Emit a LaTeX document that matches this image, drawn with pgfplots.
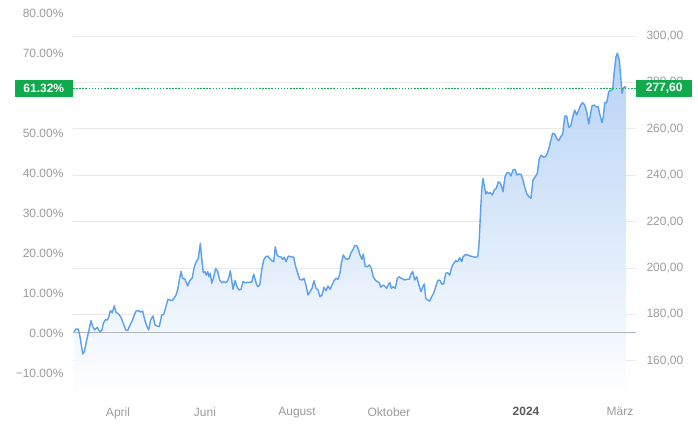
\documentclass[border=0pt]{standalone}
\usepackage{pgfplots}
\pgfplotsset{compat=1.18}
\usepackage{pgfplotstable}
\usepackage{fontspec}
\setmainfont{Liberation Sans}
\definecolor{lbl}{RGB}{155,155,155}
\definecolor{dk}{RGB}{90,90,90}
\definecolor{grd}{RGB}{234,234,234}
\definecolor{zer}{RGB}{178,180,186}
\definecolor{ln}{RGB}{90,160,238}
\definecolor{fl}{RGB}{176,207,245}
\definecolor{grn}{RGB}{16,170,76}

\pgfplotstableread{
x y
74 172.6
76 173.8
78.3 173.7
80 170.5
82.7 163.0
84.3 164.0
86.7 169.0
89 173.4
91 177.4
92.7 174.8
94.7 173.4
96 173.9
97.3 174.5
98.7 173.4
100 172.6
102 173.4
103.3 176.2
105.3 177.7
107.3 177.7
109 179.1
110.3 181.7
112.3 180.8
114.3 183.8
116 181.0
118.7 180.2
121 178.8
123.3 176.2
125.7 173.4
127.7 173.1
130 175.5
132.3 177.4
134.3 179.8
136 181.5
138.3 181.7
140.7 181.1
142.7 181.5
144.7 177.7
146.7 175.2
148.7 173.4
150.7 177.7
153 179.4
155 175.5
156.7 175.1
159.3 174.8
161.7 179.8
163.7 180.1
165.7 183.1
168 186.6
170 186.3
172 186.0
174 187.0
176 188.4
178 191.3
179.3 194.9
181 198.6
182.7 195.6
185 195.2
187.7 192.3
189.7 194.6
192.3 195.9
194.3 200.6
196.3 202.8
198.3 204.2
200.3 210.7
201.7 204.2
203.3 198.0
205 198.5
206.3 197.0
207.7 198.5
209 196.3
210.3 197.8
211.7 193.5
213.7 196.3
215.7 199.9
217.7 198.5
219.7 194.9
221.7 193.7
223.7 194.2
225.7 193.7
227.7 194.6
229 196.3
230.3 198.9
231.7 194.9
233 190.9
235 194.6
237 192.0
239 190.6
241 190.9
243 194.2
245 193.7
248.3 193.9
251.7 194.0
253.7 197.4
255.7 194.2
257.7 192.0
259.7 192.7
261.7 199.2
263.7 203.5
265.7 204.9
267.7 205.2
269.7 204.2
271.7 203.2
273.7 202.8
275.3 209.2
277 205.7
279 204.9
281 204.9
282.7 203.8
284.3 204.7
286 202.8
288.3 205.2
291 204.9
293.7 204.7
295.7 200.6
297.7 197.8
299.7 195.2
302 194.9
304 195.6
306 192.7
308 188.4
310 189.9
312 191.3
314 194.6
316 191.3
318 190.6
320 187.7
322 188.4
324 191.8
326 190.3
328 192.3
330 190.9
332 192.7
334 194.6
336 195.6
338 195.2
340 197.8
341.3 202.1
343.3 205.7
345.3 204.2
347.3 203.8
349.3 204.2
350.7 206.4
352.7 207.8
354.7 209.7
356.7 209.7
358 208.6
360 205.7
362 203.8
363.3 206.1
365.3 200.6
367.3 200.6
369.3 201.4
371.3 199.9
373.3 196.3
375.3 194.9
377.3 194.2
379.3 193.7
380.7 191.8
382.7 192.7
384.7 192.3
386.7 191.3
388.7 193.2
390 193.7
391.3 191.3
393.3 192.0
395.3 191.3
397.3 195.6
399.3 196.3
401.3 195.6
403.3 195.2
405.3 194.9
407.3 195.2
409.3 195.2
411.3 197.8
412.7 198.5
414.7 194.9
416.7 196.3
419 192.7
421 189.9
423 192.3
424.3 193.2
425.7 187.0
427.7 186.3
429.7 185.8
431.7 187.7
433.7 189.2
435.7 192.0
437.7 194.6
439.7 194.9
441.7 193.2
443.7 193.2
445.7 197.8
447.7 198.0
449.7 197.0
451.7 200.4
453.7 202.1
455.7 203.2
457.7 202.8
459.7 204.5
461.7 202.8
463 204.9
465 205.7
467.7 205.7
470.3 205.2
473 204.9
475 204.7
477.7 204.9
479 210.0
480.3 222.2
481.7 233.7
483 238.7
484.3 235.4
485.7 231.9
487 232.9
488.3 232.2
490.3 232.5
492.3 231.5
494.3 233.7
496.3 234.4
498.3 237.2
500.3 236.6
501.7 235.1
503 232.9
505 239.4
507 241.1
509 241.1
511 239.7
513 242.3
515 242.6
517 240.1
519 240.6
521 240.4
523 238.0
525 234.4
527 231.9
529 230.8
531 230.1
533 238.0
535.3 239.4
537.3 240.9
539.3 247.3
541.3 248.7
543.3 247.8
545.3 248.0
547.3 249.5
549.3 252.3
551.3 255.9
552.7 258.1
554.7 257.8
556.7 255.9
558.7 254.9
560.7 256.6
562.7 257.7
564.7 265.5
566.7 265.5
568.7 260.7
570.7 261.2
572.7 265.2
574.7 268.1
576.7 266.0
578.7 268.1
580.7 270.3
582.7 271.3
584.7 270.3
586.7 267.4
588.7 262.1
590 265.2
592 269.9
594 270.3
596 269.6
598 269.6
600 266.0
602 262.7
603.3 265.2
604.7 271.3
606.7 271.3
608.7 276.0
610.7 276.7
612.7 276.9
614 283.9
616 291.1
617.3 292.6
619.3 289.7
620.7 282.5
622 275.3
623.3 277.5
624.7 278.2
626 277.6
}\price

\begin{document}
\begin{tikzpicture}
\useasboundingbox (0,0) rectangle (698bp,434bp);
\pgfplotsset{common/.style={
  scale only axis, width=563bp, height=389.9bp,
  at={(73bp,38.2bp)}, anchor=south west,
  xmin=73, xmax=636, ymin=145, ymax=313,
  axis line style={draw=none}, tick style={draw=none}, major tick length=0pt,
  /pgf/number format/assume math mode=true,
  tick label style={font=\fontsize{12bp}{14bp}\selectfont, text=lbl}}}
\begin{axis}[common,
  ytick={160,180,200,220,240,260,280,300},
  yticklabels={{160,00},{180,00},{200,00},{220,00},{240,00},{260,00},{280,00},{300,00}},
  yticklabel pos=right,
  yticklabel style={xshift=7bp},
  ymajorgrids, grid style={grd, line width=1bp},
  xtick={118,205,297,389,526,620},
  xticklabels={April,Juni,August,Oktober,{\textbf{\textcolor{dk}{2024}}},März},
  xticklabel style={yshift=-8bp}]
\addplot[draw=none, top color=fl, bottom color=white, fill opacity=0.92]
  table[x=x, y=y] {\price} -- (axis cs:626,145) -- (axis cs:74,145) -- cycle;
\addplot[zer, line width=1bp] coordinates {(73,172.08) (636,172.08)};
\addplot[ln, line width=1.4bp, line join=round] table[x=x, y=y] {\price};
\end{axis}
\begin{axis}[common,
  ytick={154.87,172.08,189.29,206.50,223.70,240.91,258.12,292.54,309.74},
  yticklabels={−10.00\%,0.00\%,10.00\%,20.00\%,30.00\%,40.00\%,50.00\%,70.00\%,80.00\%},
  yticklabel pos=left,
  yticklabel style={xshift=-6bp},
  xtick=\empty]
\coordinate (L) at (axis cs:73,277.6);
\coordinate (R) at (axis cs:636,277.6);
\end{axis}
\draw[grn, line width=1bp, dash pattern=on 1.5bp off 1.6bp] (L) -- (R);
\node[fill=grn, text=white, anchor=east, minimum width=58bp, minimum height=17bp, inner sep=0pt,
  font=\bfseries\fontsize{12bp}{14bp}\selectfont] at (L) {61.32\%};
\node[fill=grn, text=white, anchor=west, minimum width=56bp, minimum height=17bp, inner sep=0pt,
  font=\bfseries\fontsize{12bp}{14bp}\selectfont] at (R) {277,60};
\end{tikzpicture}
\end{document}
